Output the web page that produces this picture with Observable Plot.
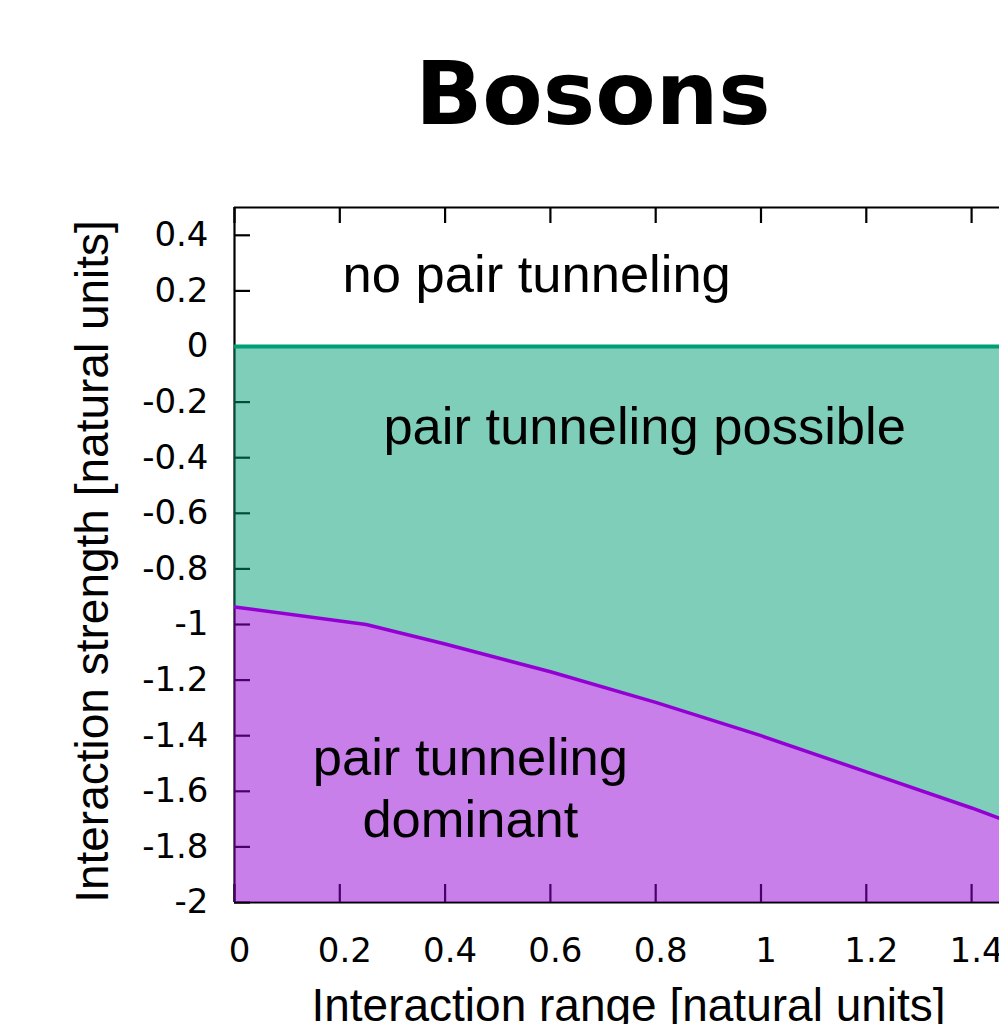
<!DOCTYPE html>
<html>
<head>
<meta charset="utf-8">
<script src="https://cdn.jsdelivr.net/npm/d3@7"></script>
<script src="https://cdn.jsdelivr.net/npm/@observablehq/plot@0.6"></script>
<style>
  html, body { margin: 0; padding: 0; background: #fff; }
  #wrap { position: relative; width: 999px; height: 1024px; overflow: hidden; }
  #chart { position: absolute; left: 0; top: 0; }
  #title {
    position: absolute; left: 187px; width: 812px; top: 50px;
    text-align: center; font: bold 88px "DejaVu Sans"; line-height: 1; color: #000;
  }
</style>
</head>
<body>
<div id="wrap">
  <div id="chart"></div>
  <div id="title">Bosons</div>
</div>
<script>
// Boundary between "pair tunneling possible" and "pair tunneling dominant"
const rangeX    = [0, 0.25, 0.4, 0.6, 0.8, 1.0, 1.2, 1.4, 1.5];
const strengthY = [-0.937, -1.0, -1.07, -1.17, -1.28, -1.40, -1.53, -1.66, -1.73];

// Onset of pair tunneling (interaction strength)
const onset = 0;

// Axis ticks and extents
const xTicks = [0, 0.2, 0.4, 0.6, 0.8, 1, 1.2, 1.4];
const yTicks = [0.4, 0.2, 0, -0.2, -0.4, -0.6, -0.8, -1, -1.2, -1.4, -1.6, -1.8, -2];
const xDomain = [0, 1.453];
const yDomain = [-2, 0.5];

// Region annotations (data coordinates)
const regionLabels = ["no pair tunneling", "pair tunneling possible", "pair tunneling\ndominant"];
const labelX = [0.574, 0.779, 0.448];
const labelY = [0.268, -0.278, -1.581];

const xTitle = "Interaction range [natural units]";
const yTitle = "Interaction strength [natural units]";

const rows = rangeX.map((x, i) => ({x, y: strengthY[i]}));
const labels = regionLabels.map((text, i) => ({text, x: labelX[i], y: labelY[i]}));

const green = "#009e73";
const purple = "#9400d3";

const W = 999, H = 1024;
const mTop = 207, mBottom = 122, mLeft = 234, mRight = 0;
const plotW = W - mLeft - mRight;
const plotH = H - mTop - mBottom;

const tickFont = "DejaVu Sans";
const textFont = "Liberation Sans";

const chart = Plot.plot({
  width: W,
  height: H,
  marginTop: mTop,
  marginBottom: mBottom,
  marginLeft: mLeft,
  marginRight: mRight,
  x: {domain: xDomain},
  y: {domain: yDomain},
  style: {background: "#fff", color: "#000"},
  marks: [
    // inward tick marks (drawn beneath the translucent fills)
    Plot.tickX(xTicks, {x: d => d, stroke: "#000", strokeWidth: 2.2, insetTop: plotH - 18}),
    Plot.tickX(xTicks, {x: d => d, stroke: "#000", strokeWidth: 2.2, insetBottom: plotH - 16}),
    Plot.tickY(yTicks, {y: d => d, stroke: "#000", strokeWidth: 2.2, insetRight: plotW - 16}),
    // border on top, left and bottom
    Plot.ruleY([yDomain[1]], {stroke: "#000", strokeWidth: 2.2}),
    Plot.ruleY([yDomain[0]], {stroke: "#000", strokeWidth: 2.2}),
    Plot.ruleX([xDomain[0]], {stroke: "#000", strokeWidth: 2.2}),
    // regions
    Plot.areaY(rows, {x: "x", y1: "y", y2: () => onset, fill: green, fillOpacity: 0.5, clip: true}),
    Plot.areaY(rows, {x: "x", y1: () => yDomain[0], y2: "y", fill: purple, fillOpacity: 0.5, clip: true}),
    // region boundaries
    Plot.ruleY([onset], {stroke: green, strokeWidth: 4}),
    Plot.line(rows, {x: "x", y: "y", stroke: purple, strokeWidth: 3.5, clip: true}),
    // region annotations
    Plot.text(labels, {
      x: "x", y: "y", text: "text",
      fontFamily: textFont, fontSize: 52.5, lineHeight: 1.18,
      textAnchor: "middle", fill: "#000"
    }),
    // tick labels
    Plot.axisX(xTicks, {
      tickSize: 0, tickPadding: 35, dx: 5, fontSize: 34, fontFamily: tickFont,
      tickFormat: d => String(d), label: null
    }),
    Plot.axisY(yTicks, {
      tickSize: 0, tickPadding: 26, fontSize: 34, fontFamily: tickFont,
      tickFormat: d => String(d), label: null
    }),
    // axis titles
    Plot.text([xTitle], {
      frameAnchor: "bottom", text: d => d, dx: 11.5, dy: 118,
      textAnchor: "middle",
      fontFamily: textFont, fontSize: 46, fill: "#000"
    }),
    Plot.text([yTitle], {
      frameAnchor: "left", text: d => d, rotate: -90, dx: -141, dy: 6.5,
      textAnchor: "middle",
      fontFamily: textFont, fontSize: 46, fill: "#000"
    })
  ]
});

document.getElementById("chart").appendChild(chart);
</script>
</body>
</html>
